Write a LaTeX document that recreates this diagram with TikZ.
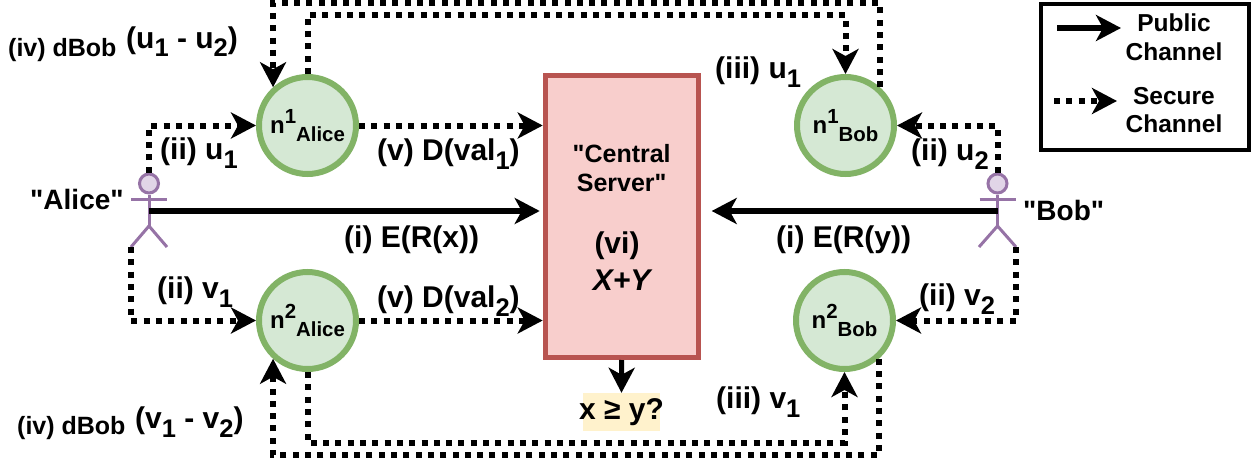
\documentclass[tikz,border=0pt]{standalone}
\usepackage{fontspec}
\usepackage{tikz}
\usetikzlibrary{arrows.meta}
\setmainfont{Liberation Sans}
\newfontfamily\plainfont{Liberation Sans}
\definecolor{nodefill}{HTML}{D5E8D4}
\definecolor{nodeline}{HTML}{82B366}
\definecolor{srvfill}{HTML}{F8CECC}
\definecolor{srvline}{HTML}{B85450}
\definecolor{actfill}{HTML}{E1D5E7}
\definecolor{actline}{HTML}{9673A6}
\definecolor{resfill}{HTML}{FFF2CC}
\newcommand{\fsize}[1]{\fontsize{#1}{#1}\selectfont}
\newcommand{\qt}{{\plainfont\bfseries"}}
\newcommand{\lowr}[1]{\raisebox{-0.3em}{\scalebox{0.85}{#1}}}
\newcommand{\highr}[1]{\raisebox{0.42em}{\scalebox{0.85}{#1}}}

\begin{document}
\begin{tikzpicture}[
		x=1pt, y=-1pt,
		every node/.style={font=\bfseries\fsize{30}, inner sep=0pt},
		share/.style={circle, draw=nodeline, fill=nodefill, line width=6pt, minimum size=97pt, font=\bfseries\fsize{24}},
		head/.style={circle, draw=actline, fill=actfill, line width=3pt, minimum size=19pt},
		limb/.style={draw=actline, line width=3pt},
		public/.style={line width=6pt, -{Stealth[length=25pt,width=26pt,inset=7pt]}},
		secure/.style={line width=6pt, dash pattern=on 6pt off 6.3pt, -{Stealth[length=25pt,width=26pt,inset=7pt]}},
		txt/.style={anchor=base west},
		small/.style={anchor=base west, font=\bfseries\fsize{25}},
		big/.style={anchor=base west, font=\bfseries\fsize{28}}
	]
  \useasboundingbox (0,0) rectangle (1253,463);

  \node (n1Alice) [share] at (307.5,125.5) {n\highr{1}\lowr{Alice}};
  \node (n2Alice) [share] at (307.5,320.5) {n\highr{2}\lowr{Alice}};
  \node (n1Bob) [share] at (845.5,125.5) {n\highr{1}\lowr{Bob}};
  \node (n2Bob) [share] at (844.5,320.5) {n\highr{2}\lowr{Bob}};

  \node (server) [draw=srvline, fill=srvfill, line width=5pt, minimum width=153pt, minimum height=282pt] at (621.7,216.5) {};
  \node (central) [font=\bfseries\fsize{25}, align=center] at (621.7,168) {\qt Central\\[4pt]Server\qt};
  \node (vi) [anchor=base] at (617,253) {(vi)};
  \node (sum) [anchor=base, font=\bfseries\itshape\fsize{30}] at (621.7,290) {X+Y};
  \node (result) [fill=resfill, minimum width=77pt, minimum height=38pt] at (621.5,412) {\makebox[0pt]{x ≥ y?}};

  % Alice
  \node (aliceHead) [head] at (149,183.5) {};
  \coordinate (aliceHip) at (149,226);
  \coordinate (aliceBody) at (149,211);
  \coordinate (aliceFoot) at (131,247);
  \draw [limb] (aliceHead.south) -- (aliceHip);
  \draw [limb] (131,199) -- (167,199);
  \draw [limb] (aliceFoot) -- (aliceHip) -- (167,247);

  % Bob
  \node (bobHead) [head] at (997.5,183.5) {};
  \coordinate (bobHip) at (997.5,226);
  \coordinate (bobBody) at (997.5,211);
  \coordinate (bobFoot) at (1016,247);
  \draw [limb] (bobHead.south) -- (bobHip);
  \draw [limb] (979.5,199) -- (1015.5,199);
  \draw [limb] (979,247) -- (bobHip) -- (bobFoot);

  \coordinate (outerTop) at (580,3);
  \coordinate (innerTop) at (580,15);
  \coordinate (innerBot) at (580,442.5);
  \coordinate (outerBot) at (580,455);

  \draw [public] (aliceBody) -- ([xshift=-3pt]aliceBody -| server.west);
  \draw [public] (bobBody) -- ([xshift=11pt]bobBody -| server.east);
  \draw [public, line width=5pt] (server.south) -- (result.north);

  \draw [secure] (aliceHead.north) |- (n1Alice.west);
  \draw [secure] (aliceFoot) |- (n2Alice.west);
  \draw [secure] (bobHead.north) |- (n1Bob.east);
  \draw [secure] (bobFoot) |- (n2Bob.east);
  \draw [secure] (n1Alice.east) -- (n1Alice -| server.west);
  \draw [secure] (n2Alice.east) -- (n2Alice -| server.west);
  \draw [secure] (n1Alice.north) |- (innerTop) -| (n1Bob.north);
  \draw [secure] (n1Bob.48) |- (outerTop) -| (n1Alice.132);
  \draw [secure] (n2Alice.south) |- (innerBot) -| (n2Bob.south);
  \draw [secure] (n2Bob.312) |- (outerBot) -| (n2Alice.228);

  \node (aliceName) [big] at (30,209) {\qt Alice\qt};
  \node (bobName) [big] at (1023,220) {\qt Bob\qt};
  \node (iiuA) [txt] at (160,159) {(ii) u\lowr{1}};
  \node (iivA) [txt] at (157,298) {(ii) v\lowr{1}};
  \node (iiuB) [txt] at (911,160) {(ii) u\lowr{2}};
  \node (iivB) [txt] at (919,305) {(ii) v\lowr{2}};
  \node (iiiu) [txt] at (715,78) {(iii) u\lowr{1}};
  \node (iiiv) [txt] at (716,408) {(iii) v\lowr{1}};
  \node (ER) [txt] at (344,247) {(i) E(R(x))};
  \node (EY) [txt] at (776,247) {(i) E(R(y))};
  \node (vD) [txt] at (377,160) {(v) D(val\lowr{1})};
  \node (vDb) [txt] at (377,307) {(v) D(val\lowr{2})};
  \node (ivA) [small] at (8,56) {(iv) dBob};
  \node (ivB) [small] at (17,434) {(iv) dBob};
  \node (diffu) [txt] at (126,48) {(u\lowr{1} - u\lowr{2})};
  \node (diffv) [txt] at (135,428) {(v\lowr{1} - v\lowr{2})};

  % legend
  \node (legend) [draw, line width=4pt, minimum width=208pt, minimum height=146pt] at (1145,77) {};
  \coordinate (pubStart) at (1057,28);
  \coordinate (pubEnd) at (1121,28);
  \coordinate (secStart) at (1054,101);
  \coordinate (secEnd) at (1117,101);
  \draw [public] (pubStart) -- (pubEnd);
  \draw [secure] (secStart) -- (secEnd);
  \node (pubText) [font=\bfseries\fsize{24.5}, align=center] at (1174,37) {Public\\[4pt]Channel};
  \node (secText) [font=\bfseries\fsize{24.5}, align=center] at (1174,110) {Secure\\[4pt]Channel};
\end{tikzpicture}
\end{document}
